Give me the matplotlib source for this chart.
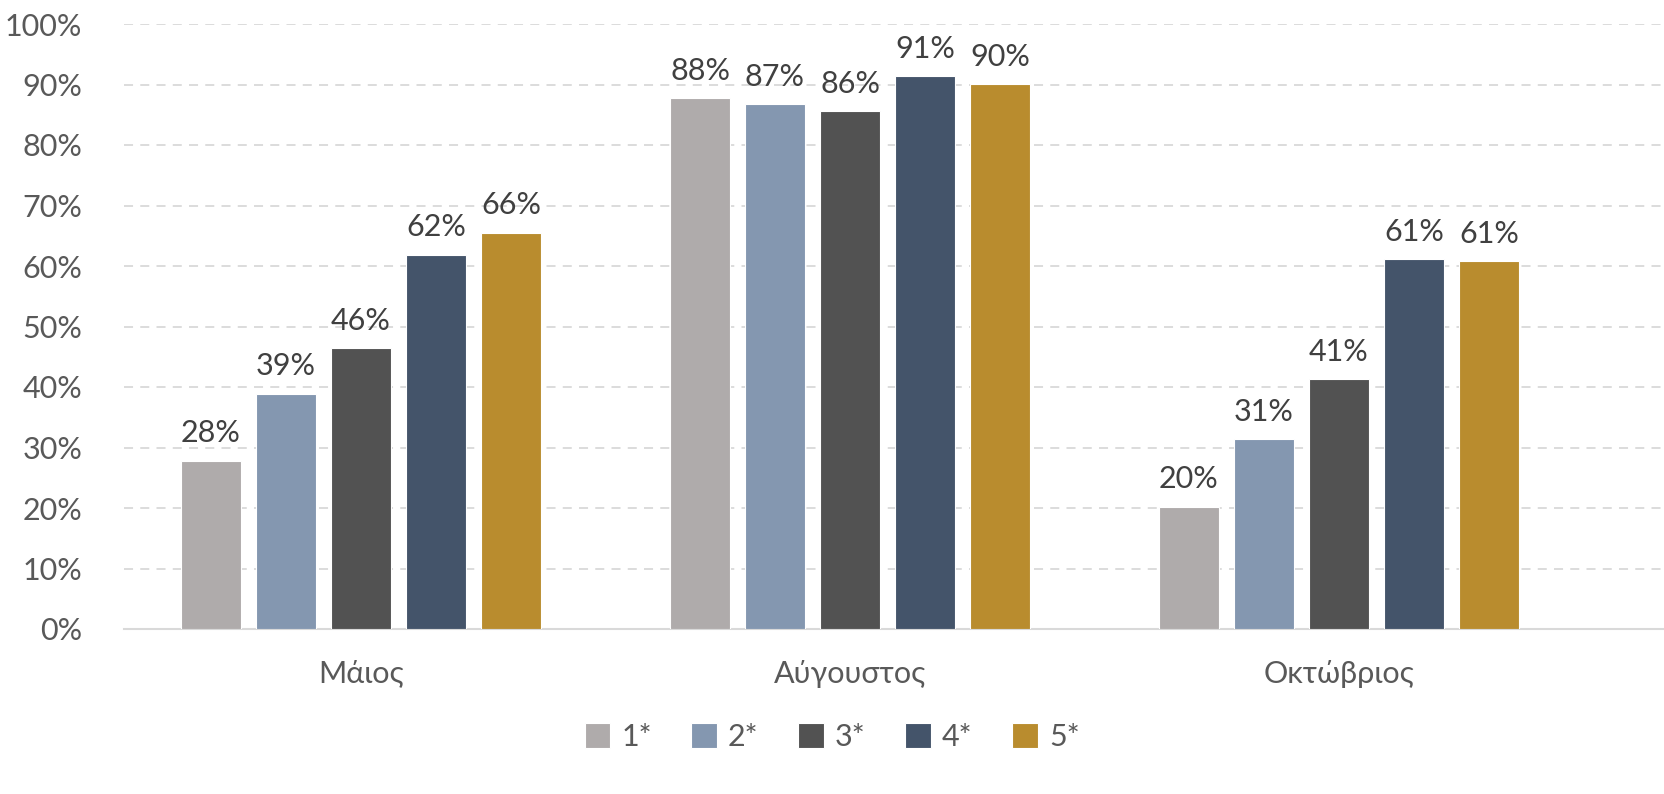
import matplotlib.pyplot as plt
import numpy as np

# data
months = ['Μάιος', 'Αύγουστος', 'Οκτώβριος']
series = ['1*', '2*', '3*', '4*', '5*']
values = {
    '1*': [27.8, 87.8, 20.2],
    '2*': [38.9, 86.7, 31.4],
    '3*': [46.4, 85.6, 41.3],
    '4*': [61.9, 91.4, 61.1],
    '5*': [65.5, 90.1, 60.8],
}
colors = ['#AFABAB', '#8497B0', '#525252', '#44546A', '#B98C2E']

plt.rcParams['font.family'] = ['Lato', 'DejaVu Sans']

fig = plt.figure(figsize=(16.64, 7.94), dpi=100)
W, H = 1664, 794
ax = fig.add_axes([124 / W, 1 - 629 / H, (1664 - 124) / W, (629 - 24) / H])

x = np.arange(len(months))
step = 75 / 489
width = 60 / 489
for i, s in enumerate(series):
    pos = x + (i - 2) * step
    bars = ax.bar(pos, values[s], width, color=colors[i], label=s,
                  edgecolor='white', linewidth=0.8, zorder=3)
    for b, v in zip(bars, values[s]):
        ax.text(b.get_x() + b.get_width() / 2, v + 2.2, f'{round(v):.0f}%',
                ha='center', va='bottom', fontsize=22, color='#404040')

ax.set_ylim(0, 100)
ax.set_xlim((124 - 361) / 489, (1664 - 361) / 489)
ax.set_yticks(np.arange(0, 101, 10))
ax.set_yticklabels([f'{t}%' for t in range(0, 101, 10)])
ax.set_xticks(x)
ax.set_xticklabels(months)
ax.tick_params(axis='y', length=0, pad=30, labelsize=22, labelcolor='#595959')
ax.tick_params(axis='x', length=0, pad=22, labelsize=22, labelcolor='#595959')

ax.grid(axis='y', color='#D9D9D9', linestyle=(0, (5, 4)), linewidth=1.3, zorder=0)
for side in ['top', 'right', 'left']:
    ax.spines[side].set_visible(False)
ax.spines['bottom'].set_color('#D9D9D9')
ax.spines['bottom'].set_linewidth(1.5)

leg = fig.legend(loc='center', bbox_to_anchor=(0.5, 1 - 737 / H), ncol=5,
                 frameon=False, fontsize=22, handlelength=0.85, handleheight=0.85,
                 handletextpad=0.35, columnspacing=1.3)
for t in leg.get_texts():
    t.set_color('#595959')

fig.savefig('out.png', dpi=100)
